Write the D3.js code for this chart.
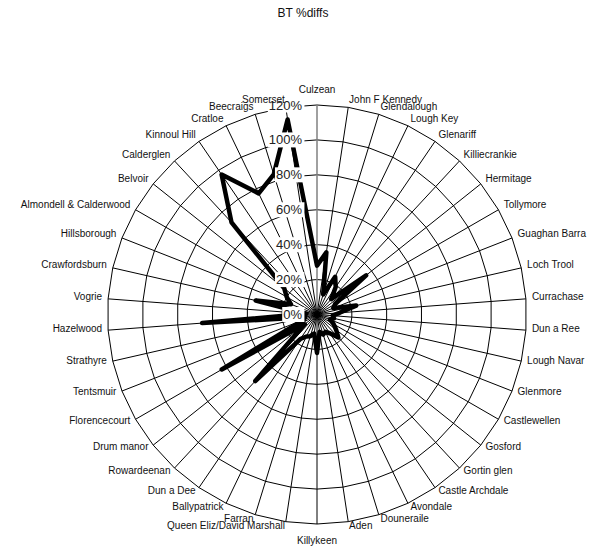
<!DOCTYPE html>
<html>
<head>
<meta charset="utf-8">
<script src="https://cdn.jsdelivr.net/npm/d3@7/dist/d3.min.js"></script>
<style>
  * { margin: 0; padding: 0; }
  body { background: #fff; font-family: "Liberation Sans", Arial, sans-serif; }
  .ring, .spoke { fill: none; stroke: #000; stroke-width: 1; }
  .axis-line { stroke: #808080; stroke-width: 1.5; }
  .series { fill: none; stroke: #000; stroke-width: 4.5; stroke-linejoin: round; stroke-linecap: round; }
  .cat { font-size: 10px; fill: #111; }
  .pct { font-size: 13px; fill: #222; }
</style>
</head>
<body>
<svg id="chart" width="594" height="550"></svg>
<script>
const sites = [
  "Culzean", "John F Kennedy", "Glendalough", "Lough Key", "Glenariff",
  "Killiecrankie", "Hermitage", "Tollymore", "Guaghan Barra", "Loch Trool",
  "Currachase", "Dun a Ree", "Lough Navar", "Glenmore", "Castlewellen",
  "Gosford", "Gortin glen", "Castle Archdale", "Avondale", "Douneraile",
  "Aden", "Killykeen", "Queen Eliz/David Marshall", "Farran", "Ballypatrick",
  "Dun a Dee", "Rowardeenan", "Drum manor", "Florencecourt", "Tentsmuir",
  "Strathyre", "Hazelwood", "Vogrie", "Crawfordsburn", "Hillsborough",
  "Almondell & Calderwood", "Belvoir", "Calderglen", "Kinnoul Hill", "Cratloe",
  "Beecraigs", "Somerset"
];
// BT % difference per site (percent)
const btDiffs = [
  28, 36, 12, 24, 19,
  12, 36, 12, 10, 23,
  13, 9, 10, 8, 11,
  14, 18, 13, 11, 12,
  10, 22, 11, 13, 14,
  17, 52, 9, 63, 8,
  7, 66, 6, 36, 16,
  20, 24, 72, 97, 77,
  84, 113
];
const pctTicks = [0, 20, 40, 60, 80, 100, 120];
const chartTitle = "BT %diffs";

const svg = d3.select("#chart");
const cx = 317, cy = 314.5, R = 209.5;
const n = sites.length;
const step = 2 * Math.PI / n;

const r = d3.scaleLinear().domain([0, 120]).range([0, R]);

svg.append("text")
  .attr("x", 303).attr("y", 13)
  .attr("text-anchor", "middle").attr("dominant-baseline", "central")
  .style("font-size", "12px").style("fill", "#111")
  .text(chartTitle);

const g = svg.append("g").attr("transform", `translate(${cx},${cy})`);

// grid rings (polygons)
const ringLine = d3.lineRadial().curve(d3.curveLinearClosed)
  .angle((d, i) => i * step).radius(d => d);
pctTicks.filter(t => t > 0).forEach(t => {
  g.append("path").attr("class", "ring")
    .attr("d", ringLine(sites.map(() => r(t))));
});

// spokes
g.selectAll(".spoke").data(sites).enter().append("line")
  .attr("class", (d, i) => i === 0 ? "spoke axis-line" : "spoke")
  .attr("x1", 0).attr("y1", 0)
  .attr("x2", (d, i) => R * Math.sin(i * step))
  .attr("y2", (d, i) => -R * Math.cos(i * step));

// series
const seriesLine = d3.lineRadial().curve(d3.curveLinearClosed)
  .angle((d, i) => i * step).radius(d => r(d));
g.append("path").attr("class", "series").attr("d", seriesLine(btDiffs));

// value axis labels with white background
pctTicks.forEach(t => {
  const lab = g.append("g");
  const txt = lab.append("text").attr("class", "pct")
    .attr("x", -15).attr("y", -r(t))
    .attr("text-anchor", "end").attr("dominant-baseline", "central")
    .text(t + "%");
  const bb = txt.node().getBBox();
  lab.insert("rect", "text")
    .attr("x", bb.x - 1).attr("y", bb.y)
    .attr("width", bb.width + 3).attr("height", bb.height)
    .attr("fill", "#fff");
});

// category labels (on top)
const lr = R + 6;
g.selectAll(".cat").data(sites).enter().append("text")
  .attr("class", "cat")
  .attr("x", (d, i) => lr * Math.sin(i * step))
  .attr("y", (d, i) => {
    const s = Math.sin(i * step), c = Math.cos(i * step);
    const y = -lr * c;
    return Math.abs(s) < 0.02 ? y - c * 10 : y - 2;
  })
  .attr("dominant-baseline", "central")
  .attr("text-anchor", (d, i) => {
    const s = Math.sin(i * step);
    return Math.abs(s) < 0.02 ? "middle" : (s > 0 ? "start" : "end");
  })
  .text(d => d);
</script>
</body>
</html>
